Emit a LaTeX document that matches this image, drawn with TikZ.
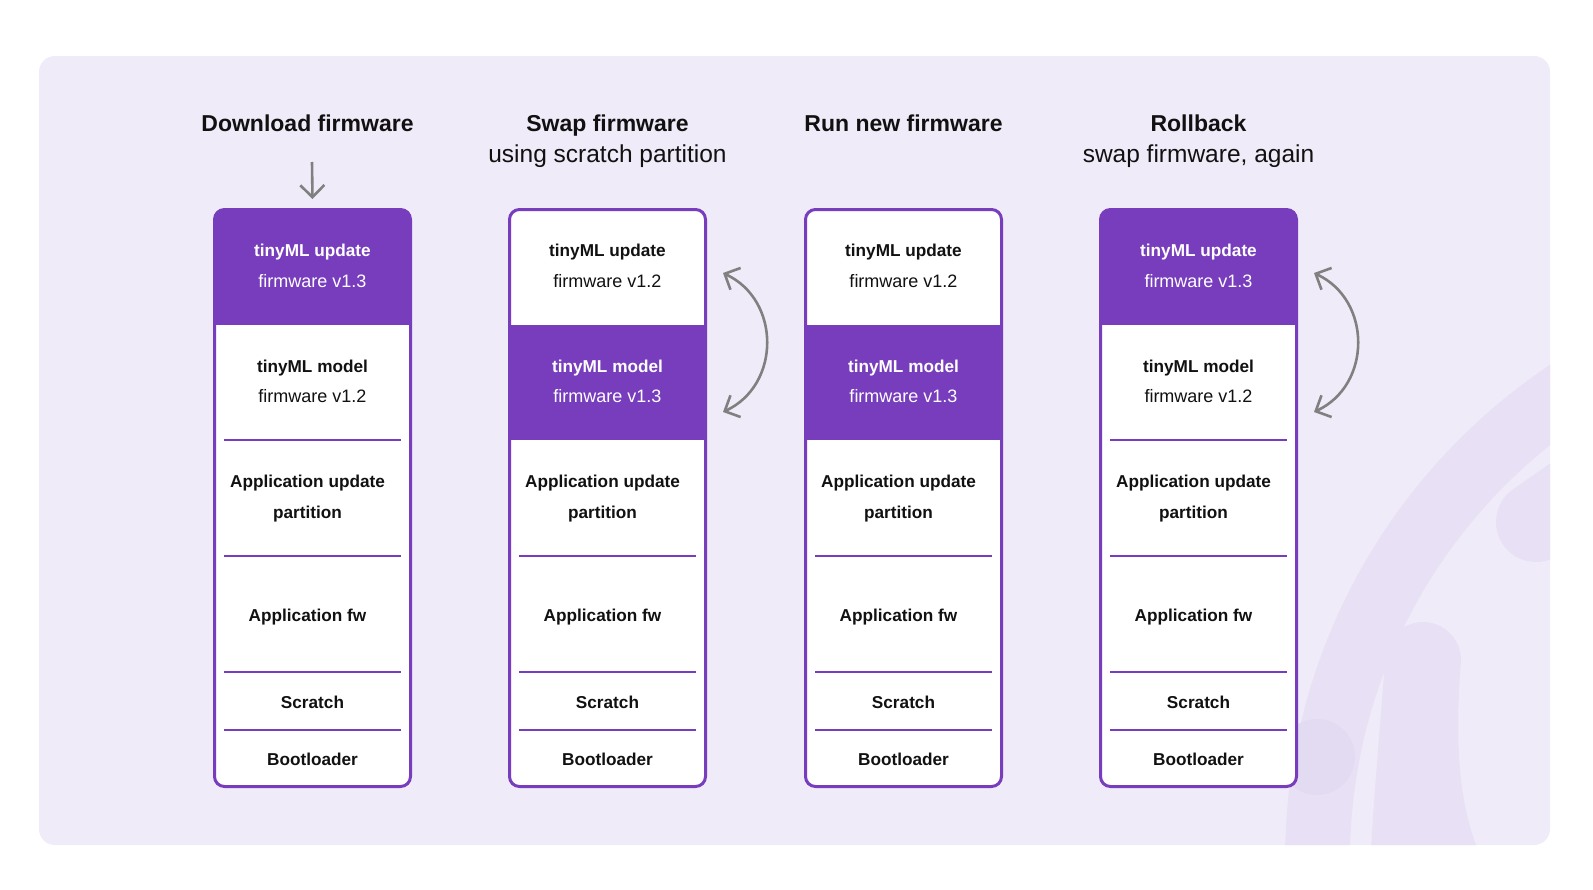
\documentclass[tikz,border=0pt]{standalone}
\usepackage{fontspec}
\setmainfont{Liberation Sans}
\usetikzlibrary{arrows.meta}
\definecolor{bgpanel}{RGB}{240,235,248}
\definecolor{deco}{RGB}{232,225,245}
\definecolor{decob}{RGB}{227,219,242}
\definecolor{fwpurple}{RGB}{119,61,189}
\definecolor{arrowgray}{RGB}{128,128,128}
\definecolor{txt}{RGB}{17,17,17}

\newcommand{\fwcolumn}[3]{%
  \pgfmathsetmacro{\cx}{#2+99.5}%
  \ifnum#3=1 \def\ca{white}\def\cb{txt}\def\va{3}\def\vb{2}\else\def\ca{txt}\def\cb{white}\def\va{2}\def\vb{3}\fi
  \begin{scope}
    \clip[rounded corners=9pt] (#2+1,209) rectangle (#2+198,787);
    \fill[white] (#2,208) rectangle (#2+199,788);
    \ifnum#3=1 \fill[fwpurple] (#2,200) rectangle (#2+199,325);\else\fill[fwpurple] (#2,325) rectangle (#2+199,440);\fi
  \end{scope}
  \node[boxframe] (#1) at (\cx,498) {};
  \ifnum#3=1 \draw[sepline] (#2+11,440) -- (#2+188,440);\fi
  \foreach \yy in {556,672,730} {\draw[sepline] (#2+11,\yy) -- (#2+188,\yy);}
  \node[lblb, text=\ca] (#1-a1) at (\cx,256) {tinyML update};
  \node[lblr, text=\ca] (#1-a2) at (\cx,287) {firmware v1.\va};
  \node[lblb, text=\cb] (#1-b1) at (\cx,372) {tinyML model};
  \node[lblr, text=\cb] (#1-b2) at (\cx,402) {firmware v1.\vb};
  \node[lblb] (#1-c1) at (\cx-5,487) {Application update};
  \node[lblb] (#1-c2) at (\cx-5,518) {partition};
  \node[lblb] (#1-d) at (\cx-5,621) {Application fw};
  \node[lblb] (#1-e) at (\cx,708) {Scratch};
  \node[lblb] (#1-f) at (\cx,765) {Bootloader};
}

\begin{document}
\begin{tikzpicture}[x=1pt,y=-1pt,
  title/.style={font=\fontsize{23}{28}\selectfont\bfseries, text=txt, anchor=base, inner sep=0pt},
  subtitle/.style={font=\fontsize{24.5}{28}\selectfont, text=txt, anchor=base, inner sep=0pt},
  lblb/.style={font=\fontsize{17.2}{20}\selectfont\bfseries, text=txt, anchor=base, inner sep=0pt},
  lblr/.style={font=\fontsize{18}{20}\selectfont, text=txt, anchor=base, inner sep=0pt},
  sepline/.style={draw=fwpurple, line width=2.6pt},
  boxframe/.style={draw=fwpurple, line width=3pt, rounded corners=10pt, minimum width=196pt, minimum height=577pt, inner sep=0pt},
  barb/.tip={Straight Barb[length=12pt,width=24pt]},
  garrow/.style={draw=arrowgray, line width=2.6pt},
]
\useasboundingbox (0,0) rectangle (1593,889);
\fill[white] (0,0) rectangle (1593,889);
\fill[bgpanel, rounded corners=16pt] (39,56) rectangle (1550,845);
\begin{scope}
  \clip[rounded corners=16pt] (39,56) rectangle (1550,845);
  \fill[deco, even odd rule] (1880,860) circle[radius=595pt] (1880,860) circle[radius=530pt];
  \fill[deco] (1385,660) arc[start angle=180, end angle=0, radius=38pt]
     .. controls (1455,740) and (1458,800) .. (1478,850) -- (1480,900) -- (1370,900) -- (1371,850)
     .. controls (1374,790) and (1380,730) .. (1385,660) -- cycle;
  \draw[deco, line width=80pt, line cap=round] (1536,522) -- (1618,465);
  \fill[decob] (1317,757) circle[radius=38pt];
\end{scope}

\node[title] (h1) at (307.5,131) {Download firmware};
\node[title] (h2) at (607.5,131) {Swap firmware};
\node[subtitle] (s2) at (607.5,162) {using scratch partition};
\node[title] (h3) at (903.5,131) {Run new firmware};
\node[title] (h4) at (1198.5,131) {Rollback};
\node[subtitle] (s4) at (1198.5,162) {swap firmware, again};

\fwcolumn{c1}{213}{1}
\fwcolumn{c2}{508}{2}
\fwcolumn{c3}{804}{2}
\fwcolumn{c4}{1099}{1}

\coordinate (dl) at (312,162);
\draw[garrow, -barb] (dl) -- ([yshift=9pt]c1.north);
\coordinate (sa) at (723,273);
\coordinate (sb) at (723,412);
\draw[garrow, barb-barb] (sa) .. controls (781,300) and (781,385) .. (sb);
\coordinate (ra) at (1314,273);
\coordinate (rb) at (1314,412);
\draw[garrow, barb-barb] (ra) .. controls (1372,300) and (1372,385) .. (rb);
\end{tikzpicture}
\end{document}
